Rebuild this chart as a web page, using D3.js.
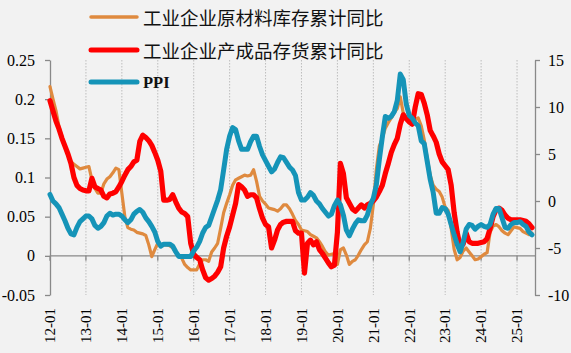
<!DOCTYPE html>
<html><head><meta charset="utf-8">
<script src="https://cdn.jsdelivr.net/npm/d3@7"></script>
<style>
html,body{margin:0;padding:0;background:#F2F2F2;}
svg{display:block;}
</style></head>
<body>
<svg id="c" width="571" height="353"></svg>
<script>
// ---- data ----
const startYear = 2012, monthCount = 162; // 2012-01 .. 2025-06
const months = [];
for (let k = 0; k < monthCount; k++) {
  const y = startYear + Math.floor(k / 12), m = k % 12 + 1;
  months.push(String(y % 100).padStart(2, "0") + "-" + String(m).padStart(2, "0"));
}
const xTickLabels = ["12-01","13-01","14-01","15-01","16-01","17-01","18-01","19-01","20-01","21-01","22-01","23-01","24-01","25-01"];
const leftTicks = [-0.05, 0, 0.05, 0.1, 0.15, 0.2, 0.25];
const rightTicks = [-10, -5, 0, 5, 10, 15];
const seriesNames = ["工业企业原材料库存累计同比", "工业企业产成品存货累计同比", "PPI"];

// raw material inventory cumulative YoY (left axis)
const rawMaterial = [
 0.216,0.200,0.185,0.165,0.152,0.140,0.128,0.120,0.117,0.114,0.111,0.112,
 0.113,0.114,0.097,0.086,0.080,0.080,0.092,0.098,0.101,0.106,0.112,0.110,
 0.080,0.050,0.036,0.034,0.033,0.030,0.029,0.028,0.026,0.014,-0.001,0.008,
 0.016,0.013,0.014,0.014,0.013,0.010,0.005,0.000,-0.003,-0.011,-0.015,-0.018,
 -0.018,-0.018,-0.010,-0.005,-0.005,-0.007,0.005,0.010,0.016,0.035,0.055,0.067,
 0.078,0.090,0.097,0.099,0.101,0.103,0.102,0.103,0.110,0.095,0.076,0.070,
 0.066,0.061,0.060,0.059,0.057,0.060,0.065,0.065,0.060,0.053,0.045,0.040,
 0.033,0.032,0.031,0.027,0.025,0.023,0.018,0.012,0.005,0.001,0.002,0.003,
 -0.011,0.008,0.010,0.001,-0.011,-0.007,-0.005,0.001,0.008,0.014,0.018,0.035,
 0.065,0.110,0.140,0.150,0.163,0.170,0.176,0.183,0.188,0.203,0.182,0.177,
 0.175,0.173,0.174,0.176,0.166,0.148,0.125,0.103,0.090,0.085,0.082,0.075,
 0.062,0.058,0.035,0.008,-0.005,-0.002,0.006,0.010,0.005,0.000,-0.005,-0.004,
 -0.001,0.002,0.004,0.030,0.038,0.040,0.037,0.032,0.029,0.027,0.032,0.037,
 0.036,0.035,0.031,0.029,0.027,0.029
];
// finished goods inventory cumulative YoY (left axis)
const finishedGoods = [
 0.198,0.185,0.172,0.162,0.150,0.140,0.130,0.118,0.100,0.090,0.086,0.084,
 0.083,0.083,0.099,0.088,0.086,0.084,0.076,0.074,0.079,0.080,0.082,0.088,
 0.095,0.103,0.110,0.114,0.120,0.122,0.146,0.154,0.151,0.147,0.141,0.132,
 0.122,0.108,0.071,0.071,0.072,0.078,0.069,0.061,0.056,0.054,0.050,0.016,
 0.002,-0.002,-0.005,-0.018,-0.028,-0.031,-0.029,-0.026,-0.021,-0.014,0.010,0.025,
 0.037,0.052,0.067,0.091,0.088,0.084,0.076,0.078,0.078,0.074,0.060,0.048,
 0.040,0.037,0.010,0.020,0.033,0.040,0.043,0.044,0.044,0.044,0.032,0.029,
 0.029,-0.022,0.016,0.020,0.014,0.018,0.008,0.003,-0.003,-0.009,-0.014,-0.012,
 0.030,0.118,0.105,0.074,0.067,0.060,0.057,0.061,0.065,0.061,0.065,0.067,
 0.070,0.075,0.082,0.090,0.105,0.118,0.132,0.142,0.150,0.168,0.180,0.175,
 0.171,0.168,0.190,0.207,0.206,0.195,0.180,0.160,0.153,0.145,0.130,0.120,
 0.115,0.110,0.090,0.055,0.030,0.012,0.015,0.029,0.018,0.016,0.016,0.016,
 0.017,0.018,0.022,0.035,0.050,0.059,0.061,0.058,0.052,0.048,0.046,0.046,
 0.046,0.046,0.045,0.044,0.041,0.036
];
// PPI YoY % (right axis)
const ppi = [
 0.7,0.0,-0.3,-0.7,-1.4,-2.1,-2.9,-3.5,-3.6,-2.8,-2.2,-1.9,
 -1.6,-1.6,-1.9,-2.6,-2.9,-2.7,-2.3,-1.6,-1.3,-1.5,-1.4,-1.4,
 -1.6,-2.0,-2.3,-2.0,-1.4,-1.1,-0.9,-1.2,-1.8,-2.2,-2.7,-3.3,
 -4.3,-4.8,-4.6,-4.6,-4.6,-4.8,-5.4,-5.9,-5.9,-5.9,-5.9,-5.9,
 -5.3,-4.9,-4.3,-3.4,-2.8,-2.6,-1.7,-0.8,0.1,1.2,3.3,5.5,
 6.9,7.8,7.6,6.4,5.5,5.5,5.5,6.3,6.9,6.9,5.8,4.9,
 4.3,3.7,3.1,3.4,4.1,4.7,4.6,4.1,3.6,3.3,2.7,0.9,
 0.1,0.1,0.4,0.9,0.6,0.0,-0.3,-0.8,-1.2,-1.6,-1.4,-0.5,
 0.1,-0.4,-1.5,-3.1,-3.7,-3.0,-2.4,-2.0,-2.1,-2.1,-1.5,-0.4,
 0.3,1.7,4.4,6.8,9.0,8.8,9.0,9.5,10.7,13.5,12.9,10.3,
 9.1,8.8,8.3,8.0,6.4,6.1,4.2,2.3,0.9,-1.3,-1.3,-0.7,
 -0.8,-1.4,-2.5,-3.6,-4.6,-5.4,-4.4,-3.0,-2.5,-2.6,-3.0,-2.7,
 -2.5,-2.7,-2.8,-2.5,-1.4,-0.8,-0.8,-1.8,-2.8,-2.9,-2.5,-2.3,
 -2.3,-2.2,-2.5,-2.7,-3.3,-3.6
];

// ---- chart ----
const svg = d3.select("#c");
svg.append("rect").attr("width", 571).attr("height", 353).attr("fill", "#F2F2F2");

const x = d3.scalePoint().domain(months).range([50, 50 + 161 * 485 / 162]);
const yL = d3.scaleLinear().domain([-0.05, 0.25]).range([295, 60]);
const yR = d3.scaleLinear().domain([-10, 15]).range([295, 60]);
const axisColor = "#898989";

// vertical dotted gridlines at year ticks
svg.append("g").selectAll("line").data(xTickLabels.slice(1)).join("line")
  .attr("x1", d => x(d)).attr("x2", d => x(d))
  .attr("y1", 60).attr("y2", 295)
  .attr("stroke", "#BDBDBD").attr("stroke-width", 1).attr("stroke-dasharray", "1.5,1.5");

// horizontal category axis at 0
svg.append("line").attr("x1", 50).attr("x2", 535).attr("y1", yL(0)).attr("y2", yL(0))
  .attr("stroke", axisColor).attr("stroke-width", 1.3);
svg.append("g").selectAll("line").data(xTickLabels).join("line")
  .attr("x1", d => x(d)).attr("x2", d => x(d))
  .attr("y1", yL(0)).attr("y2", yL(0) + 5)
  .attr("stroke", axisColor).attr("stroke-width", 1.3);

// x labels
svg.append("g").selectAll("text").data(xTickLabels).join("text")
  .attr("transform", d => `translate(${x(d)},308) rotate(-90)`)
  .attr("dy", "0.35em")
  .attr("text-anchor", "end")
  .attr("font-family", "'Liberation Serif','Times New Roman',serif")
  .attr("font-size", 15).attr("fill", "#000")
  .text(d => d);

// left axis
const gL = svg.append("g").attr("transform", "translate(50,0)")
  .call(d3.axisLeft(yL).tickValues(leftTicks).tickSize(5).tickSizeOuter(0).tickPadding(10)
    .tickFormat(d => String(+d.toFixed(2))));
// right axis
const gR = svg.append("g").attr("transform", "translate(535,0)")
  .call(d3.axisRight(yR).tickValues(rightTicks).tickSize(5).tickSizeOuter(0).tickPadding(8)
    .tickFormat(d => String(d)));
[gL, gR].forEach(g => {
  g.select(".domain").attr("stroke", axisColor).attr("stroke-width", 1.3);
  g.selectAll(".tick line").attr("stroke", axisColor).attr("stroke-width", 1.3);
  g.selectAll("text").attr("font-family", "'Liberation Serif','Times New Roman',serif")
    .attr("font-size", 16).attr("fill", "#000");
});

// lines
const colors = ["#DF8A3F", "#FF0000", "#1594B8"];
const widths = [3.2, 5.2, 5];
const lineL = d3.line().x((d, i) => x(months[i])).y(d => yL(d));
const lineR = d3.line().x((d, i) => x(months[i])).y(d => yR(d));
[[rawMaterial, lineL], [finishedGoods, lineL], [ppi, lineR]].forEach(([data, gen], k) => {
  svg.append("path").datum(data).attr("d", gen)
    .attr("fill", "none").attr("stroke", colors[k]).attr("stroke-width", widths[k])
    .attr("stroke-linejoin", "round").attr("stroke-linecap", "round");
});

// legend
const legY = [17, 50, 82];
seriesNames.forEach((name, k) => {
  svg.append("line").attr("x1", 91).attr("x2", 137).attr("y1", legY[k]).attr("y2", legY[k])
    .attr("stroke", colors[k]).attr("stroke-width", k === 0 ? 3.5 : 5).attr("stroke-linecap", "round");
  const t = svg.append("text").attr("x", 143).attr("y", legY[k]).attr("fill", "#111");
  if (k < 2) {
    t.attr("font-family", "'Noto Sans CJK SC',sans-serif").attr("font-size", 18.5)
      .attr("dominant-baseline", "central").text(name);
  } else {
    t.attr("font-family", "'Liberation Serif','Times New Roman',serif").attr("font-size", 16.5)
      .attr("font-weight", "bold").attr("dy", "0.34em").text(name);
  }
});
</script>
</body></html>
